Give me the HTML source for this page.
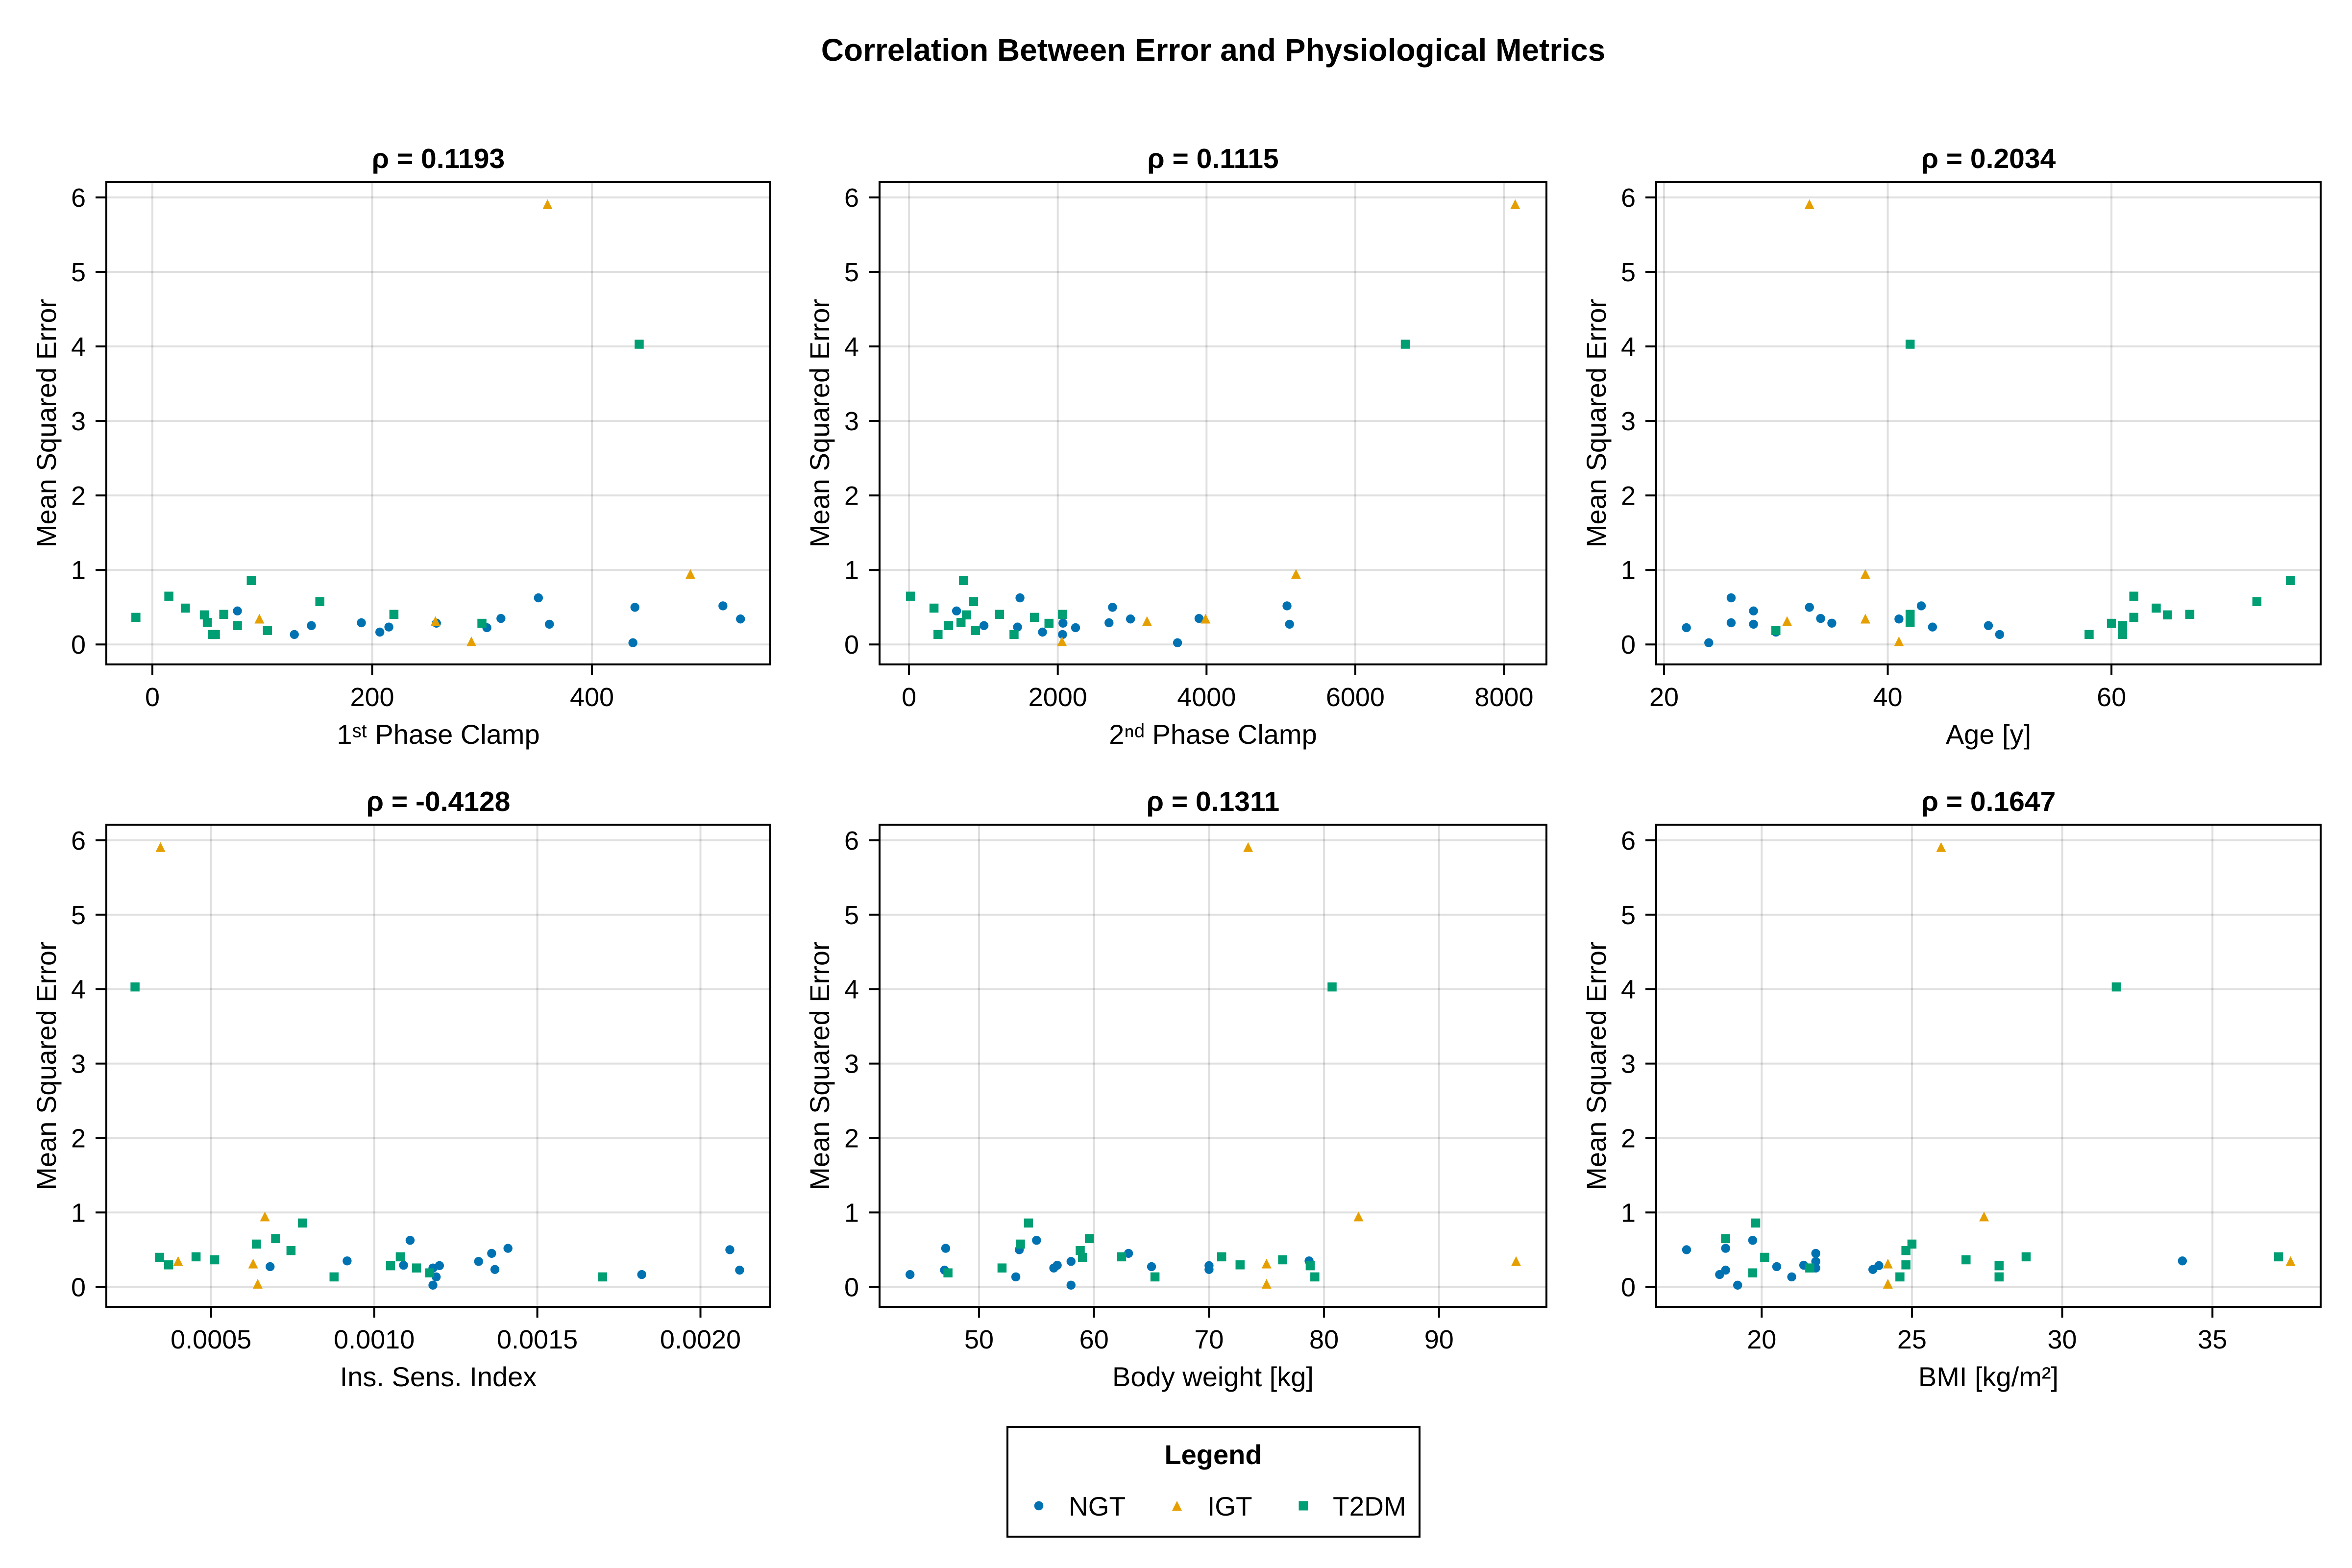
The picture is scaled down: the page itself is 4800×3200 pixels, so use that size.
<!DOCTYPE html>
<html lang="en">
<head>
<meta charset="utf-8">
<title>Correlation Between Error and Physiological Metrics</title>
<style>
html,body{margin:0;padding:0;background:#fff;}
svg{display:block;}
text{font-family:"Liberation Sans","DejaVu Sans",sans-serif;fill:#000;}
</style>
</head>
<body>
<svg id="chart" xmlns="http://www.w3.org/2000/svg" width="4800" height="3200" viewBox="0 0 4800 3200">
<rect x="0" y="0" width="4800" height="3200" fill="#ffffff"/>
<text x="2476" y="124" font-size="64" font-weight="700" text-anchor="middle">Correlation Between Error and Physiological Metrics</text>
<g id="panels"></g>
<g>
<rect x="2056" y="2912" width="841" height="224" fill="#ffffff" stroke="#000" stroke-width="4"/>
<text x="2476" y="2988" font-size="56" font-weight="700" text-anchor="middle">Legend</text>
<circle cx="2120" cy="3073" r="9.3" fill="#0072B2"/>
<text x="2181" y="3093" font-size="55">NGT</text>
<polygon points="2402,3063 2412,3083 2392,3083" fill="#E69F00"/>
<text x="2464" y="3093" font-size="55">IGT</text>
<rect x="2650.5" y="3063.5" width="19" height="19" fill="#009E73"/>
<text x="2720" y="3093" font-size="55">T2DM</text>
</g>
</svg>
<script>
// Shared y values (mean squared error) per subject group
const ngtError = [0.450,0.134,0.253,0.291,0.166,0.234,0.286,0.225,0.349,0.626,0.272,0.023,0.499,0.518,0.342];
const igtError = [0.347,0.314,0.042,0.947,5.91];
const t2dmError = [0.364,0.648,0.488,0.397,0.296,0.134,0.134,0.404,0.254,0.858,0.188,0.575,0.404,0.284,4.03];

// 1st phase clamp
const firstPhaseNgt = [77.4,129.2,144.7,190.2,207,215.2,258.5,304.4,317.2,351.3,361.3,437.3,439.1,519.2,535.2];
const firstPhaseIgt = [97.4,257.6,290.3,489.6,359.6];
const firstPhaseT2dm = [-15,15,30,47.3,50,54.6,57.3,65,77.4,90,104.7,152.4,219.8,299.9,443];
// 2nd phase clamp
const secondPhaseNgt = [639,2064,1008,2689,1795,1459,2070,2239,3899,1492,5116,3610,2736,5082,2978];
const secondPhaseIgt = [3987,3200,2057,5203,8150];
const secondPhaseT2dm = [1687,20,336,773,699,390,1412,1217,531,733,894,867,2064,1882,6673];
// Age
const ageNgt = [28,50,49,26,30,44,35,22,34,26,28,24,33,43,41];
const ageIgt = [38,31,41,38,33];
const ageT2dm = [62,62,64,65,42,58,61,67,61,76,30,73,42,60,42];
// Insulin sensitivity index
const insulinNgt = [0.00136,0.00119,0.00118,0.00109,0.00182,0.00137,0.0012,0.00212,0.000917,0.00111,0.000681,0.00118,0.00209,0.00141,0.00132];
const insulinIgt = [0.000399,0.000629,0.000643,0.000665,0.000345];
const insulinT2dm = [0.000511,0.000698,0.000745,0.000342,0.00037,0.000877,0.0017,0.000454,0.00113,0.00078,0.00117,0.000639,0.00108,0.00105,0.000267];
// Body weight
const weightNgt = [63,53.2,56.5,56.8,44,70,70,47,78.7,55,65,58,53.5,47.1,58];
const weightIgt = [96.7,75,75,83,73.4];
const weightT2dm = [76.4,59.6,58.8,59,72.7,65.3,79.2,62.4,52,54.3,47.3,53.6,71.1,78.8,80.7];
// BMI
const bmiNgt = [21.8,21,21.8,21.4,18.6,23.7,23.9,18.8,34,19.7,20.5,19.2,17.5,18.8,21.8];
const bmiIgt = [37.6,24.2,24.2,27.4,25.97];
const bmiT2dm = [26.8,18.8,24.8,20.1,24.8,24.6,27.9,28.8,21.6,19.8,19.7,25,37.2,27.9,31.8];

// Tick values and labels
const yTicks = [0,1,2,3,4,5,6];
const firstPhaseTicks = [0,200,400];
const secondPhaseTicks = [0,2000,4000,6000,8000];
const ageTicks = [20,40,60];
const insulinTicks = [0.0005,0.0010,0.0015,0.0020];
const insulinTickLabels = ["0.0005","0.0010","0.0015","0.0020"];
const weightTicks = [50,60,70,80,90];
const bmiTicks = [20,25,30,35];

// Panel titles and axis labels
const panelKeys = ["first-phase","second-phase","age","insulin","weight","bmi"];
const panelTitles = ["ρ = 0.1193","ρ = 0.1115","ρ = 0.2034","ρ = -0.4128","ρ = 0.1311","ρ = 0.1647"];
const xLabels = ["1ˢᵗ Phase Clamp","2ⁿᵈ Phase Clamp","Age [y]","Ins. Sens. Index","Body weight [kg]","BMI [kg/m²]"];
const yLabel = "Mean Squared Error";

// Axis limits
const yLimits = [-0.268,6.21];
const xLimits = [[-41.9,562.3],[-396,8570],[19.3,78.7],[0.000179,0.002214],[41.35,99.34],[16.49,38.6]];

const xTickSets = [firstPhaseTicks,secondPhaseTicks,ageTicks,insulinTicks,weightTicks,bmiTicks];
const xTickText = [firstPhaseTicks.map(String),secondPhaseTicks.map(String),ageTicks.map(String),insulinTickLabels,weightTicks.map(String),bmiTicks.map(String)];
const ngtSets = [firstPhaseNgt,secondPhaseNgt,ageNgt,insulinNgt,weightNgt,bmiNgt];
const igtSets = [firstPhaseIgt,secondPhaseIgt,ageIgt,insulinIgt,weightIgt,bmiIgt];
const t2dmSets = [firstPhaseT2dm,secondPhaseT2dm,ageT2dm,insulinT2dm,weightT2dm,bmiT2dm];

const SVGNS = "http://www.w3.org/2000/svg";
const root = document.getElementById("panels");
const colLeft = [217,1795,3380];
const colRight = [1572,3156,4736];
const rowTop = [371,1683];
const rowBottom = [1356,2667];
const LINE = 4;
const FONT = 54;
const LABEL_FONT = 56;
const TITLE_FONT = 57;

function make(tag, attrs, parent){
  const el = document.createElementNS(SVGNS, tag);
  for (const k in attrs) el.setAttribute(k, attrs[k]);
  parent.appendChild(el);
  return el;
}

panelKeys.forEach(function(key, p){
  const col = p % 3, row = Math.floor(p / 3);
  const L = colLeft[col], R = colRight[col], T = rowTop[row], B = rowBottom[row];
  const xl = xLimits[p];
  const sx = function(v){ return L + (v - xl[0]) / (xl[1] - xl[0]) * (R - L); };
  const sy = function(v){ return B - (v - yLimits[0]) / (yLimits[1] - yLimits[0]) * (B - T); };

  const g = make("g", {}, root);
  
  

  const title = make("text", {x:(L+R)/2, y:T-28, "font-size":TITLE_FONT, "font-weight":700, "text-anchor":"middle"}, g);
  title.textContent = panelTitles[p];
  
  

  const ylab = make("text", {transform:"translate("+(L-103)+" "+((T+B)/2)+") rotate(-90)", "font-size":LABEL_FONT, "text-anchor":"middle"}, g);
  ylab.textContent = yLabel;
  
  

  const xlab = make("text", {x:(L+R)/2, y:B+162, "font-size":LABEL_FONT, "text-anchor":"middle"}, g);
  xlab.textContent = xLabels[p];
  
  

  xTickSets[p].forEach(function(t, i){
    const x = sx(t);
    const grid = make("line", {x1:x, x2:x, y1:T, y2:B, stroke:"#000", "stroke-opacity":0.12, "stroke-width":LINE}, g);
    
    
    const tick = make("line", {x1:x, x2:x, y1:B, y2:B+22, stroke:"#000", "stroke-width":LINE}, g);
    
    
    const lab = make("text", {x:x, y:B+85, "font-size":FONT, "text-anchor":"middle"}, g);
    lab.textContent = xTickText[p][i];
    
    
  });

  yTicks.forEach(function(t){
    const y = sy(t);
    const grid = make("line", {x1:L, x2:R, y1:y, y2:y, stroke:"#000", "stroke-opacity":0.12, "stroke-width":LINE}, g);
    
    
    const tick = make("line", {x1:L-22, x2:L, y1:y, y2:y, stroke:"#000", "stroke-width":LINE}, g);
    
    
    const lab = make("text", {x:L-42, y:y+19, "font-size":FONT, "text-anchor":"end"}, g);
    lab.textContent = String(t);
    
    
  });

  ngtSets[p].forEach(function(v, i){
    const c = make("circle", {cx:sx(v), cy:sy(ngtError[i]), r:9.2, fill:"#0072B2"}, g);
    
    
  });
  igtSets[p].forEach(function(v, i){
    const x = sx(v), y = sy(igtError[i]);
    const tri = make("polygon", {points:x+","+(y-10)+" "+(x+10)+","+(y+10)+" "+(x-10)+","+(y+10), fill:"#E69F00"}, g);
    
    
  });
  t2dmSets[p].forEach(function(v, i){
    const sq = make("rect", {x:sx(v)-9.25, y:sy(t2dmError[i])-9.25, width:18.5, height:18.5, fill:"#009E73"}, g);
    
    
  });

  const frame = make("rect", {x:L, y:T, width:R-L, height:B-T, fill:"none", stroke:"#000", "stroke-width":LINE}, g);
  
  
});
</script>
</body>
</html>
